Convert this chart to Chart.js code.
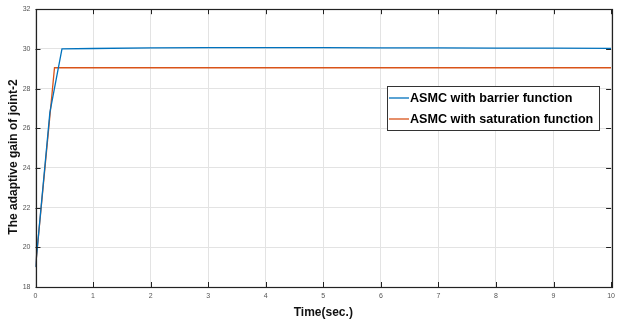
<!DOCTYPE html>
<html>
<head>
<meta charset="utf-8">
<script src="https://cdn.jsdelivr.net/npm/chart.js@4.4.1/dist/chart.umd.min.js"></script>
<style>
  html, body { margin: 0; padding: 0; background: #ffffff; }
  #wrap { width: 620px; height: 320px; }
</style>
</head>
<body>
<div id="wrap"><canvas id="c" width="620" height="320"></canvas></div>
<script>
// Adaptive gain of joint-2 over time for the two controllers
const barrierTime  = [0, 0.25, 0.46, 1, 2, 3, 4, 5, 6, 7, 8, 9, 10];
const barrierGain  = [19.0, 26.8, 30.0, 30.02, 30.05, 30.06, 30.06, 30.06, 30.05, 30.05, 30.04, 30.04, 30.03];
const satTime      = [0, 0.33, 1, 2, 4, 6, 8, 10];
const satGain      = [19.0, 29.05, 29.05, 29.05, 29.05, 29.05, 29.05, 29.05];
const xTicks       = [0, 1, 2, 3, 4, 5, 6, 7, 8, 9, 10];
const yTicks       = [18, 20, 22, 24, 26, 28, 30, 32];
const seriesNames  = ['ASMC with barrier function', 'ASMC with saturation function'];
const yTitle       = 'The adaptive gain of joint-2';

const toPoints = (xs, ys) => xs.map((x, i) => ({ x: x, y: ys[i] }));
const tickFont = { size: 7, family: '"Liberation Sans Narrow", "Liberation Sans", Arial' };

// Box border with inward tick marks on all four sides, plus the y-axis title
const boxPlugin = {
  id: 'boxTicks',
  afterDraw(chart) {
    const { ctx, chartArea: a, scales } = chart;
    ctx.save();
    ctx.strokeStyle = '#222';
    ctx.lineWidth = 1;
    ctx.beginPath();
    const len = 5;
    xTicks.forEach(v => {
      const px = Math.round(scales.x.getPixelForValue(v)) + 0.5;
      ctx.moveTo(px, a.bottom); ctx.lineTo(px, a.bottom - len);
      ctx.moveTo(px, a.top); ctx.lineTo(px, a.top + len);
    });
    yTicks.forEach(v => {
      const py = Math.round(scales.y.getPixelForValue(v)) + 0.5;
      ctx.moveTo(a.left, py); ctx.lineTo(a.left + len, py);
      ctx.moveTo(a.right, py); ctx.lineTo(a.right - len, py);
    });
    ctx.stroke();
    ctx.lineWidth = 1.2;
    ctx.strokeRect(Math.round(a.left) + 0.5, Math.round(a.top) + 0.5,
                   Math.round(a.right - a.left), Math.round(a.bottom - a.top));

    ctx.translate(14, 157);
    ctx.rotate(-Math.PI / 2);
    ctx.font = 'bold 12px "Liberation Sans", Arial, sans-serif';
    ctx.fillStyle = '#111';
    ctx.textAlign = 'center';
    ctx.textBaseline = 'middle';
    ctx.fillText(yTitle, 0, 0);
    ctx.restore();
  }
};

// Legend box drawn inside the plot area
const legendPlugin = {
  id: 'boxLegend',
  afterDraw(chart) {
    const { ctx } = chart;
    const x0 = 387, y0 = 86, w = 212, h = 44;
    ctx.save();
    ctx.fillStyle = '#ffffff';
    ctx.fillRect(x0, y0, w, h);
    ctx.strokeStyle = '#333';
    ctx.lineWidth = 1;
    ctx.strokeRect(x0 + 0.5, y0 + 0.5, w, h);
    ctx.font = 'bold 12.6px "Liberation Sans", Arial, sans-serif';
    ctx.textBaseline = 'middle';
    chart.data.datasets.forEach((ds, i) => {
      const yy = y0 + 12 + i * 21;
      ctx.strokeStyle = ds.borderColor;
      ctx.lineWidth = 1.3;
      ctx.beginPath();
      ctx.moveTo(x0 + 2, yy); ctx.lineTo(x0 + 22, yy);
      ctx.stroke();
      ctx.fillStyle = '#000';
      ctx.fillText(ds.label, x0 + 23, yy + 1);
    });
    ctx.restore();
  }
};

new Chart(document.getElementById('c'), {
  type: 'line',
  data: {
    datasets: [
      { label: seriesNames[0], data: toPoints(barrierTime, barrierGain),
        borderColor: '#0072BD', borderWidth: 1.3, pointRadius: 0, tension: 0 },
      { label: seriesNames[1], data: toPoints(satTime, satGain),
        borderColor: '#D95319', borderWidth: 1.3, pointRadius: 0, tension: 0 }
    ]
  },
  options: {
    responsive: false,
    animation: false,
    layout: { padding: { top: 9, right: 8, left: 0, bottom: 0 } },
    plugins: { legend: { display: false }, tooltip: { enabled: false } },
    scales: {
      x: {
        type: 'linear', min: 0, max: 10,
        afterBuildTicks: s => { s.ticks = xTicks.map(v => ({ value: v })); },
        afterFit: s => { s.height = 33; },
        grid: { color: '#e3e3e3', drawTicks: false },
        border: { display: false },
        ticks: { color: '#555', padding: 5, font: tickFont },
        title: { display: true, text: 'Time(sec.)', color: '#111', padding: { top: 2, bottom: 0 },
                 font: { size: 12, weight: 'bold', family: '"Liberation Sans Narrow", "Liberation Sans", Arial' } }
      },
      y: {
        type: 'linear', min: 18, max: 32,
        afterBuildTicks: s => { s.ticks = yTicks.map(v => ({ value: v })); },
        afterFit: s => { s.width = 35.5; },
        grid: { color: '#e3e3e3', drawTicks: false },
        border: { display: false },
        ticks: { color: '#555', padding: 5, font: tickFont }
      }
    }
  },
  plugins: [boxPlugin, legendPlugin]
});
</script>
</body>
</html>
